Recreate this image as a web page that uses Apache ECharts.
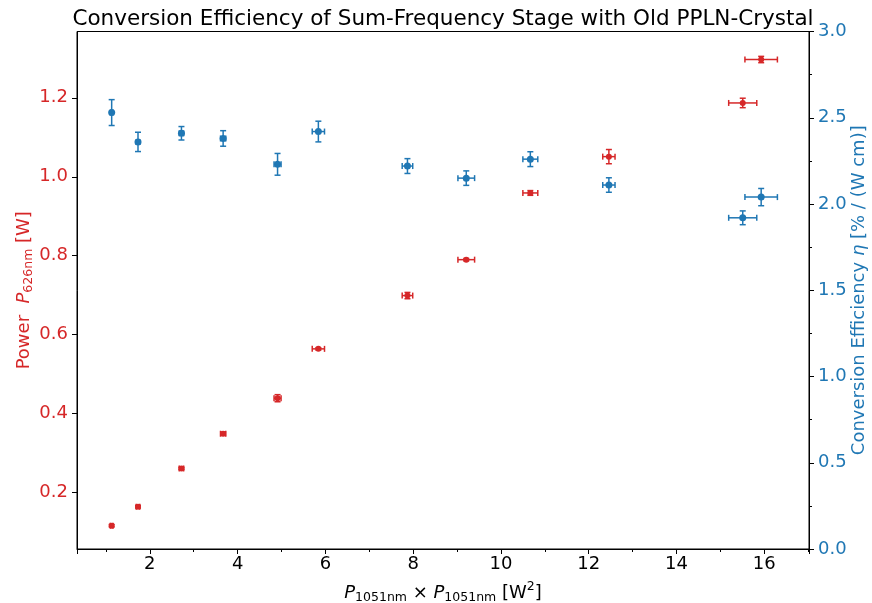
<!DOCTYPE html>
<html>
<head>
<meta charset="utf-8">
<script src="https://cdn.jsdelivr.net/npm/echarts@6/dist/echarts.min.js"></script>
<style>html,body{margin:0;padding:0;background:#fff}#c{width:872px;height:603px}</style>
</head>
<body>
<div id="c"></div>
<script>
// Data
const xVals    = [1.13, 1.73, 2.72, 3.67, 4.91, 5.84, 7.87, 9.21, 10.67, 12.46, 15.51, 15.93];
const xErr     = [0.03, 0.04, 0.05, 0.06, 0.08, 0.14, 0.12, 0.19, 0.17, 0.14, 0.32, 0.37];
const power    = [0.116, 0.164, 0.261, 0.349, 0.439, 0.564, 0.699, 0.790, 0.959, 1.051, 1.187, 1.297];
const powerErr = [0.003, 0.003, 0.003, 0.004, 0.009, 0.003, 0.008, 0.003, 0.006, 0.018, 0.012, 0.008];
const eff      = [2.53, 2.36, 2.41, 2.38, 2.23, 2.42, 2.22, 2.15, 2.26, 2.11, 1.92, 2.04];
const effErr   = [0.075, 0.056, 0.039, 0.045, 0.063, 0.060, 0.043, 0.042, 0.043, 0.042, 0.040, 0.050];

const RED = '#d62728', BLUE = '#1f77b4';
const FONT = 'DejaVu Sans';

function errData(ys, yes) {
  return xVals.map((x, i) => [x, ys[i], xErr[i], yes[i]]);
}
function ptData(ys) {
  return xVals.map((x, i) => [x, ys[i]]);
}
function makeRender(color) {
  return function (params, api) {
    const x = api.value(0), y = api.value(1), xe = api.value(2), ye = api.value(3);
    const l = api.coord([x - xe, y]), r = api.coord([x + xe, y]);
    const t = api.coord([x, y + ye]), b = api.coord([x, y - ye]);
    const cap = 3;
    const st = { stroke: color, lineWidth: 1.5 };
    const line = (x1, y1, x2, y2) => ({ type: 'line', shape: { x1, y1, x2, y2 }, style: st });
    return {
      type: 'group',
      children: [
        line(l[0], l[1], r[0], r[1]),
        line(l[0], l[1] - cap, l[0], l[1] + cap),
        line(r[0], r[1] - cap, r[0], r[1] + cap),
        line(t[0], t[1], b[0], b[1]),
        line(t[0] - cap, t[1], t[0] + cap, t[1]),
        line(b[0] - cap, b[1], b[0] + cap, b[1])
      ]
    };
  };
}

const chart = echarts.init(document.getElementById('c'), null, { renderer: 'canvas' });
chart.setOption({
  animation: false,
  backgroundColor: '#fff',
  title: {
    text: 'Conversion Efficiency of Sum-Frequency Stage with Old PPLN-Crystal',
    left: 438, top: 3, textAlign: 'center',
    textStyle: { fontFamily: FONT, fontSize: 21.5, fontWeight: 'normal', color: '#000' }
  },
  grid: {
    left: 77, right: 63, top: 31.5, bottom: 54,
    outerBoundsMode: 'none', containLabel: false,
    show: true, borderColor: '#000', borderWidth: 1, backgroundColor: 'transparent'
  },
  xAxis: {
    type: 'value', min: 0.34, max: 17.02, splitNumber: 8,
    axisLine: { show: true, lineStyle: { color: '#000', width: 1 } },
    axisTick: { show: true, length: 5, lineStyle: { color: '#000' } },
    minorTick: { show: true, splitNumber: 2, length: 3, lineStyle: { color: '#000' } },
    splitLine: { show: false },
    axisLabel: {
      color: '#000', fontFamily: FONT, fontSize: 18, margin: 6,
      showMinLabel: false, showMaxLabel: false,
      formatter: v => (Math.abs(v % 2) < 1e-9 ? String(v) : '')
    },
    name: '{i|P}{s|1051nm}{n| × }{i|P}{s|1051nm}{n| [W}{sup|2}{n|]}',
    nameLocation: 'middle', nameGap: 31, nameMoveOverlap: false,
    nameTextStyle: {
      color: '#000', fontFamily: FONT, fontSize: 18,
      rich: {
        i: { fontFamily: FONT, fontSize: 18, fontStyle: 'italic', color: '#000' },
        n: { fontFamily: FONT, fontSize: 18, color: '#000' },
        s: { fontFamily: FONT, fontSize: 12.5, color: '#000', padding: [9, 0, 0, 0] },
        sup: { fontFamily: FONT, fontSize: 12.5, color: '#000', padding: [0, 0, 13, 0] }
      }
    }
  },
  yAxis: [
    {
      type: 'value', min: 0.057, max: 1.368, splitNumber: 6, position: 'left',
      axisLine: { show: true, lineStyle: { color: '#000', width: 1 } },
      axisTick: { show: true, length: 5, lineStyle: { color: '#000' } },
      splitLine: { show: false },
      axisLabel: {
        color: RED, fontFamily: FONT, fontSize: 18, margin: 9,
        showMinLabel: false, showMaxLabel: false,
        formatter: v => (Math.abs(Math.round(v * 5) - v * 5) < 1e-6 ? v.toFixed(1) : '')
      },
      name: '{n|Power  }{i|P}{s|626nm}{n| [W]}',
      nameLocation: 'middle', nameRotate: 90, nameGap: 42, nameMoveOverlap: false,
      nameTextStyle: {
        color: RED, fontFamily: FONT, fontSize: 18,
        rich: {
          i: { fontFamily: FONT, fontSize: 18, fontStyle: 'italic', color: RED },
          n: { fontFamily: FONT, fontSize: 18, color: RED },
          s: { fontFamily: FONT, fontSize: 12.5, color: RED, padding: [9, 0, 0, 0] }
        }
      }
    },
    {
      type: 'value', min: 0, max: 3, interval: 0.5, position: 'right',
      axisLine: { show: true, lineStyle: { color: '#000', width: 1 } },
      axisTick: { show: true, length: 5, lineStyle: { color: '#000' } },
      minorTick: { show: true, splitNumber: 2, length: 3, lineStyle: { color: '#000' } },
      splitLine: { show: false },
      axisLabel: { color: BLUE, fontFamily: FONT, fontSize: 18, margin: 9, formatter: v => v.toFixed(1) },
      name: '{n|Conversion Efficiency }{i|η}{n| [% / (W cm)]}',
      nameLocation: 'middle', nameRotate: 90, nameGap: 41, nameMoveOverlap: false,
      nameTextStyle: {
        color: BLUE, fontFamily: FONT, fontSize: 18,
        rich: {
          i: { fontFamily: FONT, fontSize: 18, fontStyle: 'italic', color: BLUE },
          n: { fontFamily: FONT, fontSize: 18, color: BLUE }
        }
      }
    }
  ],
  series: [
    {
      type: 'custom', name: 'powerErr', yAxisIndex: 0, z: 2,
      renderItem: makeRender(RED), encode: { x: 0, y: 1 },
      data: errData(power, powerErr)
    },
    {
      type: 'scatter', name: 'power', yAxisIndex: 0, z: 3,
      symbol: 'circle', symbolSize: 6, itemStyle: { color: RED, opacity: 1 },
      data: ptData(power)
    },
    {
      type: 'custom', name: 'effErr', yAxisIndex: 1, z: 2,
      renderItem: makeRender(BLUE), encode: { x: 0, y: 1 },
      data: errData(eff, effErr)
    },
    {
      type: 'scatter', name: 'eff', yAxisIndex: 1, z: 3,
      symbol: 'circle', symbolSize: 7, itemStyle: { color: BLUE, opacity: 1 },
      data: ptData(eff)
    }
  ]
});
</script>
</body>
</html>
